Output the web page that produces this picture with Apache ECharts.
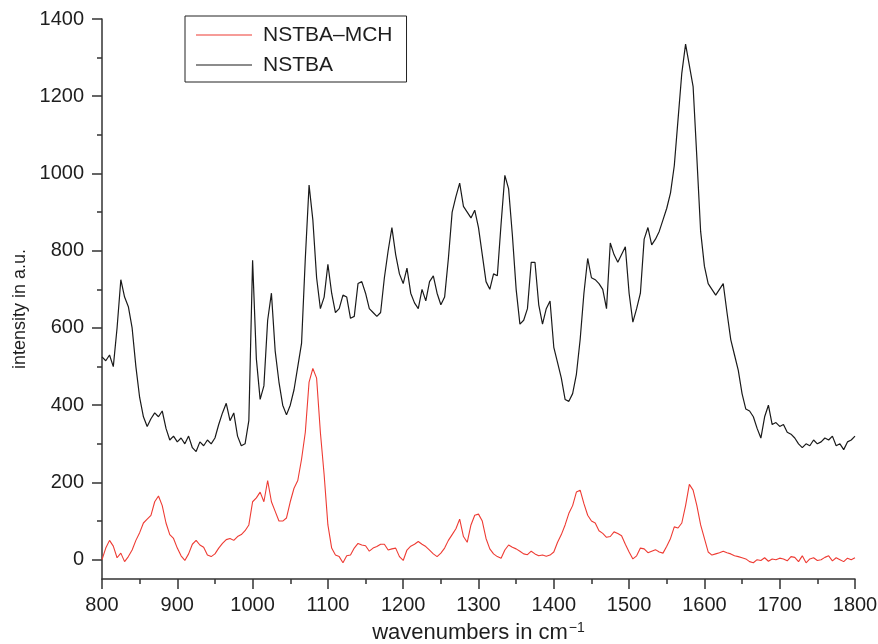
<!DOCTYPE html>
<html>
<head>
<meta charset="utf-8">
<script src="https://cdn.jsdelivr.net/npm/echarts@6/dist/echarts.min.js"></script>
<style>
html,body{margin:0;padding:0;background:#fff;}
#chart{width:878px;height:644px;}
</style>
</head>
<body>
<div id="chart"></div>
<script>
// Wavenumber sampling (cm^-1): 800..1800, step 5
const waveStart = 800;
const waveStep = 5;

// NSTBA (black) intensities, one per wavenumber sample
const nstba = [
525,515,530,500,600,725,680,655,600,500,
420,370,345,365,380,370,385,340,310,320,
305,315,300,320,290,280,305,295,310,300,
315,350,380,405,360,380,320,295,300,360,
775,520,415,450,620,690,540,460,400,375,
400,440,500,560,780,970,880,730,650,680,
765,690,640,650,685,680,625,630,715,720,
690,650,640,630,640,730,800,860,790,740,
715,755,690,665,650,700,670,720,735,690,
660,680,780,900,940,975,915,900,885,905,
860,790,720,700,740,735,870,995,960,840,
700,610,620,650,770,770,660,610,650,670,
550,510,470,415,410,430,480,570,690,780,
730,725,715,700,650,820,790,770,790,810,
690,615,650,690,830,860,815,830,850,880,
910,950,1020,1140,1260,1335,1280,1225,1040,850,
760,715,700,685,700,715,640,570,530,490,
430,390,385,370,340,315,370,400,350,355,
345,350,330,325,315,300,290,300,295,310,
300,305,315,310,320,295,300,285,305,310,
320
];

// NSTBA-MCH (red) intensities, one per wavenumber sample
const nstbaMch = [
0,30,50,35,5,17,-5,8,25,50,
70,95,105,115,150,165,140,95,65,55,
30,10,-2,15,40,50,38,32,12,8,
15,30,42,52,55,50,60,65,75,90,
150,160,175,150,205,150,125,100,100,108,
150,185,205,260,330,460,495,470,330,220,
90,30,12,8,-8,10,12,30,42,38,
36,22,30,34,40,40,25,28,30,8,
-2,25,35,40,47,40,34,25,15,8,
17,30,50,65,80,105,60,45,90,115,
118,100,55,28,15,8,4,25,38,32,
28,22,15,13,22,15,10,12,9,12,
20,45,65,90,120,140,175,180,145,115,
100,95,75,68,58,60,72,68,62,40,
20,2,10,30,28,18,22,26,20,17,
35,55,85,82,95,140,195,180,140,90,
55,20,12,15,18,22,18,15,10,8,
5,2,-5,-8,0,-2,5,-4,2,0,
4,2,-3,8,6,-5,10,-8,2,5,
-2,0,6,10,-3,5,0,-5,4,0,
5
];

const xTicks = [800,900,1000,1100,1200,1300,1400,1500,1600,1700,1800];
const yTicks = [0,200,400,600,800,1000,1200,1400];
const yMinorTicks = [100,300,500,700,900,1100,1300];
const seriesNames = ['NSTBA\u2013MCH','NSTBA'];

function pairs(vals){
  return vals.map((v,i)=>[waveStart + i*waveStep, v]);
}
const plain = v => String(v);

const FONT = '"Liberation Sans", Arial, Helvetica, sans-serif';
const TXT = '#1e1e1e';

const chart = echarts.init(document.getElementById('chart'), null, {renderer:'canvas'});
chart.setOption({
  animation:false,
  backgroundColor:'#ffffff',
  textStyle:{fontFamily:FONT},
  grid:{left:102,right:23,top:19,bottom:65,containLabel:false,outerBoundsMode:'none'},
  legend:{
    left:185, top:16,
    orient:'vertical',
    data:seriesNames,
    backgroundColor:'#fff',
    borderColor:'#222', borderWidth:1, borderRadius:0,
    padding:[8,14,6,11],
    itemWidth:56, itemHeight:14, itemGap:8,
    textStyle:{fontSize:21, color:TXT, fontFamily:FONT, lineHeight:22, padding:[0,0,0,6]},
    icon:'path://M0,7 L56,7 L56,8 L0,8 Z'
  },
  xAxis:{
    type:'value', min:800, max:1800, interval:100,
    name:'{a|wavenumbers in cm}{s|\u22121}',
    nameLocation:'middle', nameGap:42,
    nameTextStyle:{
      rich:{
        a:{fontSize:22,color:TXT,fontFamily:FONT},
        s:{fontSize:14,color:TXT,fontFamily:FONT,verticalAlign:'top',padding:[0,0,9,1]}
      }
    },
    axisLine:{show:true,onZero:false,lineStyle:{color:'#333',width:1.5}},
    axisTick:{show:true,inside:false,length:10,lineStyle:{color:'#333',width:1.5}},
    minorTick:{show:true,splitNumber:2,length:5,lineStyle:{color:'#333',width:1.5}},
    axisLabel:{fontSize:20,color:TXT,fontFamily:FONT,margin:16,
      customValues:xTicks, formatter:plain},
    splitLine:{show:false}, minorSplitLine:{show:false}
  },
  yAxis:[{
    type:'value', min:-50, max:1400,
    name:'intensity in a.u.',
    nameLocation:'middle', nameGap:72, nameRotate:90,
    nameTextStyle:{fontSize:18,color:TXT,fontFamily:FONT,padding:[0,20,0,0]},
    axisLine:{show:true,onZero:false,lineStyle:{color:'#333',width:1.5}},
    axisTick:{show:true,inside:false,length:10,customValues:yTicks,lineStyle:{color:'#333',width:1.5}},
    axisLabel:{fontSize:20,color:TXT,fontFamily:FONT,margin:18,customValues:yTicks,formatter:plain},
    splitLine:{show:false}
  },{
    type:'value', min:-50, max:1400, position:'left', offset:0,
    axisLine:{show:false},
    axisTick:{show:true,inside:false,length:5,customValues:yMinorTicks,lineStyle:{color:'#333',width:1.5}},
    axisLabel:{show:false},
    splitLine:{show:false}
  }],
  series:[{
    name:seriesNames[0], type:'line', yAxisIndex:0,
    data:pairs(nstbaMch), symbol:'none', smooth:false,
    lineStyle:{color:'#ee3b33',width:1.1}, itemStyle:{color:'#ee3b33'}, z:3
  },{
    name:seriesNames[1], type:'line', yAxisIndex:0,
    data:pairs(nstba), symbol:'none', smooth:false,
    lineStyle:{color:'#1a1a1a',width:1.2}, itemStyle:{color:'#1a1a1a'}, z:2
  }]
});
</script>
</body>
</html>
